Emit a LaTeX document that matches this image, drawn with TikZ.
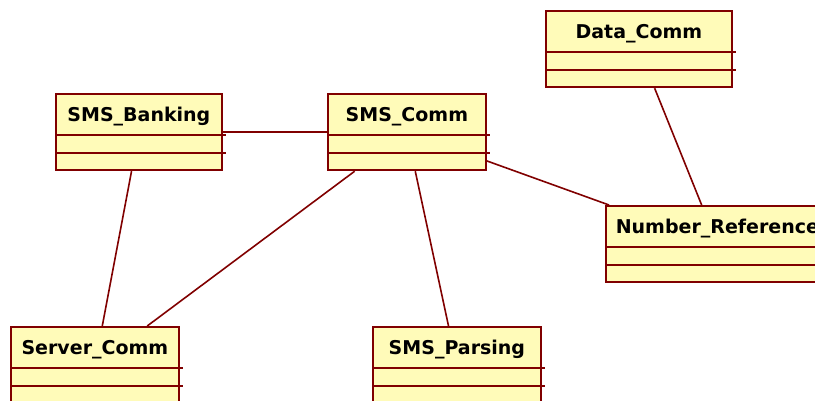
\documentclass[tikz,border=0pt]{standalone}
\usepackage{fontspec}
\setsansfont{DejaVu Sans}
\usetikzlibrary{shapes.multipart}

\definecolor{roseline}{RGB}{128,0,0}
\definecolor{rosefill}{RGB}{255,251,185}

% class box: name, north west corner, width, title
\newcommand{\umlclass}[4]{%
  \node[classbox, minimum width=#3, anchor=north west] (#1) at (#2)
    {\rule[-12pt]{0pt}{39pt}#4\nodepart{two}\rule{0pt}{16pt}\hspace{1pt}\nodepart{three}\rule{0pt}{16pt}\hspace{1pt}};
  \draw[splitline] (#1.text split west) -- (#1.text split east) -- ++(3,0)
    (#1.two split west) -- (#1.two split east) -- ++(3,0);
}

\begin{document}
\begin{tikzpicture}[x=1pt, y=-1pt,
    classbox/.style={rectangle split, rectangle split parts=3,
      rectangle split draw splits=false, draw=roseline,
      fill=rosefill, line width=1.8pt, inner xsep=0pt, inner ysep=0pt,
      font=\fontsize{19}{22}\selectfont\sffamily\bfseries},
    splitline/.style={draw=roseline, line width=2pt},
    assoc/.style={draw=roseline, line width=1.6pt}]
  \useasboundingbox (0,0) rectangle (815,400);
  \clip (0,0) rectangle (815,400);

  \umlclass{datacomm}{545,10}{186pt}{Data\_Comm}
  \umlclass{banking}{55,93}{166pt}{SMS\_Banking}
  \umlclass{smscomm}{327,93}{158pt}{SMS\_Comm}
  \umlclass{numref}{605,205}{223pt}{Number\_Reference}
  \umlclass{server}{10,326}{168pt}{Server\_Comm}
  \umlclass{parsing}{372,326}{168pt}{SMS\_Parsing}

  % associations
  \draw[assoc] (banking) -- (smscomm);
  \draw[assoc] (banking) -- (server);
  \draw[assoc] (smscomm) -- (server);
  \draw[assoc] (smscomm) -- (parsing);
  \draw[assoc] (smscomm) -- (numref);
  \draw[assoc] (datacomm) -- (numref);
\end{tikzpicture}
\end{document}
